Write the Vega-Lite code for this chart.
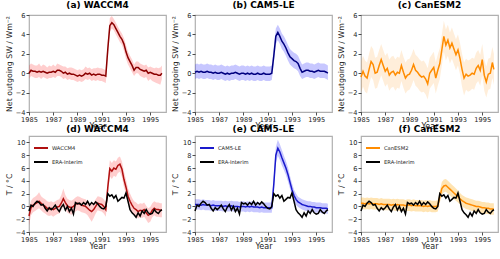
{
"$schema":"https://vega.github.io/schema/vega-lite/v6.json",
"background":"white",
"padding":{"left":4,"top":0,"right":0,"bottom":0},
"datasets":{"d":[
{"t":1985,"a":0,"al":-0.6,"ah":0.8,"b":0.1,"bl":-0.6,"bh":0.9,"c":-0.4,"cl":-2.0,"ch":1.2,"d":-1.5,"dl":-3.0,"dh":-0.3,"e":0.3,"el":-0.5,"eh":1.1,"f":0.5,"fl":-0.4,"fh":1.4,"r":-0.7},
{"t":1985.167,"a":0.3,"al":-0.3,"ah":1.0,"b":0.2,"bl":-0.5,"bh":1.0,"c":0.2,"cl":-1.4,"ch":1.8,"d":-0.2,"dl":-1.4,"dh":0.9,"e":0.3,"el":-0.5,"eh":1.1,"f":0.5,"fl":-0.4,"fh":1.4,"r":0.2},
{"t":1985.333,"a":0.2,"al":-0.4,"ah":0.9,"b":0.1,"bl":-0.6,"bh":0.9,"c":-0.3,"cl":-1.9,"ch":1.3,"d":0.2,"dl":-0.9,"dh":1.3,"e":0.3,"el":-0.5,"eh":1.1,"f":0.4,"fl":-0.5,"fh":1.3,"r":0.0},
{"t":1985.5,"a":0.2,"al":-0.5,"ah":0.8,"b":0.2,"bl":-0.5,"bh":1.0,"c":-0.5,"cl":-2.1,"ch":1.1,"d":0.4,"dl":-0.7,"dh":1.5,"e":0.2,"el":-0.6,"eh":1.0,"f":0.5,"fl":-0.4,"fh":1.4,"r":0.5},
{"t":1985.667,"a":0.1,"al":-0.5,"ah":0.8,"b":0.1,"bl":-0.6,"bh":0.9,"c":0.4,"cl":-1.2,"ch":2.0,"d":0.6,"dl":-0.5,"dh":1.8,"e":0.3,"el":-0.5,"eh":1.1,"f":0.4,"fl":-0.5,"fh":1.3,"r":0.8},
{"t":1985.833,"a":0.2,"al":-0.4,"ah":1.0,"b":0.1,"bl":-0.6,"bh":0.9,"c":1.2,"cl":-0.4,"ch":2.8,"d":0.8,"dl":-0.3,"dh":2.2,"e":0.2,"el":-0.6,"eh":1.0,"f":0.5,"fl":-0.4,"fh":1.4,"r":0.6},
{"t":1986,"a":0.1,"al":-0.6,"ah":0.7,"b":0.2,"bl":-0.5,"bh":1.0,"c":0.9,"cl":-0.7,"ch":2.5,"d":0.5,"dl":-0.6,"dh":1.6,"e":0.2,"el":-0.6,"eh":1.0,"f":0.4,"fl":-0.5,"fh":1.3,"r":0.2},
{"t":1986.167,"a":0.2,"al":-0.4,"ah":0.9,"b":0.1,"bl":-0.6,"bh":0.9,"c":0.0,"cl":-1.6,"ch":1.6,"d":0.2,"dl":-0.9,"dh":1.3,"e":0.2,"el":-0.6,"eh":1.0,"f":0.4,"fl":-0.5,"fh":1.3,"r":0.3},
{"t":1986.333,"a":0.1,"al":-0.5,"ah":0.8,"b":0.1,"bl":-0.6,"bh":0.9,"c":0.1,"cl":-1.5,"ch":1.7,"d":0.0,"dl":-1.1,"dh":1.1,"e":0.1,"el":-0.7,"eh":0.9,"f":0.4,"fl":-0.5,"fh":1.3,"r":-0.3},
{"t":1986.5,"a":0.0,"al":-0.6,"ah":0.6,"b":0.0,"bl":-0.7,"bh":0.8,"c":0.8,"cl":-0.8,"ch":2.4,"d":-0.3,"dl":-1.4,"dh":0.8,"e":0.2,"el":-0.6,"eh":1.0,"f":0.3,"fl":-0.6,"fh":1.2,"r":-0.7},
{"t":1986.667,"a":0.1,"al":-0.5,"ah":0.8,"b":0.1,"bl":-0.6,"bh":0.9,"c":1.4,"cl":-0.2,"ch":3.0,"d":-0.4,"dl":-1.5,"dh":0.7,"e":0.1,"el":-0.7,"eh":0.9,"f":0.4,"fl":-0.5,"fh":1.3,"r":-0.2},
{"t":1986.833,"a":0.1,"al":-0.5,"ah":0.7,"b":0.0,"bl":-0.7,"bh":0.8,"c":0.8,"cl":-0.8,"ch":2.4,"d":-0.3,"dl":-1.4,"dh":0.8,"e":0.1,"el":-0.7,"eh":0.9,"f":0.3,"fl":-0.6,"fh":1.2,"r":-0.5},
{"t":1987,"a":0.2,"al":-0.4,"ah":0.9,"b":0.0,"bl":-0.7,"bh":0.8,"c":0.2,"cl":-1.4,"ch":1.8,"d":-0.5,"dl":-1.6,"dh":0.6,"e":0.1,"el":-0.7,"eh":0.9,"f":0.3,"fl":-0.6,"fh":1.2,"r":-0.2},
{"t":1987.167,"a":0.1,"al":-0.5,"ah":0.7,"b":0.1,"bl":-0.6,"bh":0.9,"c":0.5,"cl":-1.1,"ch":2.1,"d":-0.3,"dl":-1.4,"dh":0.8,"e":0.1,"el":-0.7,"eh":0.9,"f":0.3,"fl":-0.6,"fh":1.2,"r":0.2},
{"t":1987.333,"a":0.3,"al":-0.3,"ah":1.0,"b":0.0,"bl":-0.7,"bh":0.8,"c":-0.2,"cl":-1.8,"ch":1.4,"d":-0.1,"dl":-1.2,"dh":1.0,"e":0.0,"el":-0.8,"eh":0.8,"f":0.3,"fl":-0.6,"fh":1.2,"r":-0.4},
{"t":1987.5,"a":0.3,"al":-0.3,"ah":0.9,"b":-0.1,"bl":-0.8,"bh":0.7,"c":0.1,"cl":-1.5,"ch":1.7,"d":0.0,"dl":-1.1,"dh":1.1,"e":0.1,"el":-0.7,"eh":0.9,"f":0.2,"fl":-0.7,"fh":1.1,"r":-0.8},
{"t":1987.667,"a":0.2,"al":-0.4,"ah":0.8,"b":0.0,"bl":-0.7,"bh":0.8,"c":0.2,"cl":-1.4,"ch":1.8,"d":0.5,"dl":-0.6,"dh":1.8,"e":0.0,"el":-0.8,"eh":0.8,"f":0.3,"fl":-0.6,"fh":1.2,"r":-0.1},
{"t":1987.833,"a":0.0,"al":-0.6,"ah":0.7,"b":-0.1,"bl":-0.8,"bh":0.7,"c":-0.2,"cl":-1.8,"ch":1.4,"d":1.2,"dl":0.0,"dh":2.8,"e":0.0,"el":-0.8,"eh":0.8,"f":0.2,"fl":-0.7,"fh":1.1,"r":0.3},
{"t":1988,"a":0.1,"al":-0.5,"ah":0.7,"b":0.0,"bl":-0.7,"bh":0.8,"c":0.1,"cl":-1.5,"ch":1.7,"d":0.6,"dl":-0.5,"dh":1.8,"e":0.1,"el":-0.7,"eh":0.9,"f":0.3,"fl":-0.6,"fh":1.2,"r":-0.6},
{"t":1988.167,"a":-0.1,"al":-0.7,"ah":0.5,"b":0.0,"bl":-0.7,"bh":0.8,"c":0.0,"cl":-1.6,"ch":1.6,"d":0.1,"dl":-1.0,"dh":1.2,"e":0.0,"el":-0.8,"eh":0.8,"f":0.2,"fl":-0.7,"fh":1.1,"r":0.0},
{"t":1988.333,"a":0.0,"al":-0.6,"ah":0.6,"b":0.1,"bl":-0.6,"bh":0.9,"c":0.8,"cl":-0.8,"ch":2.4,"d":-0.1,"dl":-1.2,"dh":1.0,"e":0.0,"el":-0.8,"eh":0.8,"f":0.2,"fl":-0.7,"fh":1.1,"r":-0.8},
{"t":1988.5,"a":-0.1,"al":-0.7,"ah":0.6,"b":0.0,"bl":-0.7,"bh":0.8,"c":0.1,"cl":-1.5,"ch":1.7,"d":-0.2,"dl":-1.3,"dh":0.9,"e":0.0,"el":-0.8,"eh":0.8,"f":0.2,"fl":-0.7,"fh":1.1,"r":-0.3},
{"t":1988.667,"a":-0.1,"al":-0.7,"ah":0.5,"b":-0.1,"bl":-0.8,"bh":0.7,"c":-0.5,"cl":-2.1,"ch":1.1,"d":0.0,"dl":-1.1,"dh":1.1,"e":-0.1,"el":-0.9,"eh":0.7,"f":0.1,"fl":-0.8,"fh":1.0,"r":-1.2},
{"t":1988.833,"a":-0.2,"al":-0.8,"ah":0.4,"b":0.0,"bl":-0.7,"bh":0.8,"c":-0.2,"cl":-1.8,"ch":1.4,"d":0.3,"dl":-0.8,"dh":1.4,"e":0.0,"el":-0.8,"eh":0.8,"f":0.2,"fl":-0.7,"fh":1.1,"r":0.6},
{"t":1989,"a":-0.3,"al":-0.9,"ah":0.3,"b":0.0,"bl":-0.7,"bh":0.8,"c":-0.1,"cl":-1.7,"ch":1.5,"d":0.5,"dl":-0.6,"dh":1.6,"e":0.0,"el":-0.8,"eh":0.8,"f":0.2,"fl":-0.7,"fh":1.1,"r":0.4},
{"t":1989.167,"a":-0.2,"al":-0.8,"ah":0.4,"b":-0.1,"bl":-0.8,"bh":0.7,"c":0.3,"cl":-1.3,"ch":1.9,"d":0.4,"dl":-0.7,"dh":1.5,"e":-0.1,"el":-0.9,"eh":0.7,"f":0.1,"fl":-0.8,"fh":1.0,"r":0.5},
{"t":1989.333,"a":-0.3,"al":-0.9,"ah":0.3,"b":0.0,"bl":-0.7,"bh":0.8,"c":0.9,"cl":-0.7,"ch":2.5,"d":0.2,"dl":-0.9,"dh":1.3,"e":0.0,"el":-0.8,"eh":0.8,"f":0.2,"fl":-0.7,"fh":1.1,"r":0.2},
{"t":1989.5,"a":-0.2,"al":-0.8,"ah":0.4,"b":-0.1,"bl":-0.8,"bh":0.7,"c":0.3,"cl":-1.3,"ch":1.9,"d":0.1,"dl":-1.0,"dh":1.2,"e":-0.1,"el":-0.9,"eh":0.7,"f":0.1,"fl":-0.8,"fh":1.0,"r":0.6},
{"t":1989.667,"a":0.0,"al":-0.6,"ah":0.7,"b":0.0,"bl":-0.7,"bh":0.8,"c":0.1,"cl":-1.5,"ch":1.7,"d":0.0,"dl":-1.1,"dh":1.1,"e":0.0,"el":-0.8,"eh":0.8,"f":0.1,"fl":-0.8,"fh":1.0,"r":0.3},
{"t":1989.833,"a":-0.1,"al":-0.7,"ah":0.5,"b":-0.1,"bl":-0.8,"bh":0.7,"c":-0.2,"cl":-1.8,"ch":1.4,"d":-0.3,"dl":-1.4,"dh":0.8,"e":-0.1,"el":-0.9,"eh":0.7,"f":0.1,"fl":-0.8,"fh":1.0,"r":0.8},
{"t":1990,"a":0.0,"al":-0.6,"ah":0.6,"b":-0.1,"bl":-0.8,"bh":0.7,"c":-0.4,"cl":-2.0,"ch":1.2,"d":-0.6,"dl":-1.9,"dh":0.5,"e":-0.1,"el":-0.9,"eh":0.7,"f":0.1,"fl":-0.8,"fh":1.0,"r":0.2},
{"t":1990.167,"a":-0.2,"al":-0.8,"ah":0.4,"b":0.0,"bl":-0.7,"bh":0.8,"c":-0.3,"cl":-1.9,"ch":1.3,"d":-0.8,"dl":-2.4,"dh":0.3,"e":-0.1,"el":-0.9,"eh":0.7,"f":0.0,"fl":-0.9,"fh":0.9,"r":0.6},
{"t":1990.333,"a":-0.1,"al":-0.7,"ah":0.5,"b":-0.1,"bl":-0.8,"bh":0.7,"c":-0.6,"cl":-2.2,"ch":1.0,"d":-0.5,"dl":-1.8,"dh":0.6,"e":-0.2,"el":-1.0,"eh":0.6,"f":0.1,"fl":-0.8,"fh":1.0,"r":0.3},
{"t":1990.5,"a":-0.2,"al":-0.8,"ah":0.5,"b":-0.1,"bl":-0.8,"bh":0.7,"c":-1.1,"cl":-2.7,"ch":0.5,"d":0.0,"dl":-1.1,"dh":1.1,"e":-0.1,"el":-0.9,"eh":0.7,"f":0.0,"fl":-0.9,"fh":0.9,"r":0.7},
{"t":1990.667,"a":-0.1,"al":-0.7,"ah":0.6,"b":0.0,"bl":-0.7,"bh":0.8,"c":0.0,"cl":-1.6,"ch":1.6,"d":0.5,"dl":-0.6,"dh":1.6,"e":-0.2,"el":-1.0,"eh":0.6,"f":0.1,"fl":-0.8,"fh":1.0,"r":0.4},
{"t":1990.833,"a":-0.1,"al":-0.8,"ah":0.5,"b":-0.1,"bl":-0.8,"bh":0.7,"c":0.3,"cl":-1.3,"ch":1.9,"d":0.4,"dl":-0.7,"dh":1.5,"e":-0.2,"el":-1.0,"eh":0.6,"f":0.0,"fl":-0.9,"fh":0.9,"r":0.0},
{"t":1991,"a":-0.2,"al":-0.8,"ah":0.5,"b":-0.1,"bl":-0.8,"bh":0.7,"c":0.6,"cl":-1.0,"ch":2.2,"d":0.3,"dl":-0.8,"dh":1.4,"e":-0.2,"el":-1.0,"eh":0.6,"f":0.0,"fl":-0.9,"fh":0.9,"r":-0.3},
{"t":1991.167,"a":-0.2,"al":-0.9,"ah":0.4,"b":-0.1,"bl":-0.8,"bh":0.7,"c":-0.5,"cl":-2.1,"ch":1.1,"d":0.0,"dl":-1.1,"dh":1.1,"e":-0.2,"el":-1.0,"eh":0.6,"f":0.0,"fl":-0.9,"fh":0.9,"r":-0.4},
{"t":1991.333,"a":-0.3,"al":-1.0,"ah":0.3,"b":0.0,"bl":-0.7,"bh":0.8,"c":0.3,"cl":-1.3,"ch":1.9,"d":-0.5,"dl":-1.6,"dh":0.6,"e":-0.2,"el":-1.0,"eh":0.6,"f":0.1,"fl":-0.8,"fh":1.0,"r":0.0},
{"t":1991.5,"a":2.5,"al":1.6,"ah":3.4,"b":1.8,"bl":1.0,"bh":2.7,"c":1.0,"cl":-0.6,"ch":2.6,"d":3.0,"dl":1.8,"dh":4.3,"e":3.5,"el":2.3,"eh":4.7,"f":1.5,"fl":0.6,"fh":2.4,"r":2.0},
{"t":1991.667,"a":4.9,"al":4.3,"ah":5.7,"b":3.8,"bl":3.0,"bh":4.6,"c":2.4,"cl":0.8,"ch":4.0,"d":5.9,"dl":4.7,"dh":7.2,"e":8.0,"el":6.8,"eh":9.3,"f":2.8,"fl":1.8,"fh":3.8,"r":1.6},
{"t":1991.833,"a":5.2,"al":4.6,"ah":5.9,"b":4.2,"bl":3.4,"bh":5.0,"c":3.8,"cl":2.2,"ch":5.4,"d":5.5,"dl":4.3,"dh":6.8,"e":9.1,"el":7.9,"eh":10.4,"f":3.2,"fl":2.2,"fh":4.2,"r":1.8},
{"t":1992,"a":5.0,"al":4.4,"ah":5.6,"b":3.8,"bl":3.0,"bh":4.6,"c":2.9,"cl":1.3,"ch":4.5,"d":6.0,"dl":4.8,"dh":7.2,"e":8.5,"el":7.3,"eh":9.7,"f":3.3,"fl":2.3,"fh":4.3,"r":1.3},
{"t":1992.167,"a":4.6,"al":4.0,"ah":5.2,"b":3.3,"bl":2.5,"bh":4.1,"c":3.4,"cl":1.8,"ch":5.0,"d":5.8,"dl":4.6,"dh":7.0,"e":7.6,"el":6.4,"eh":8.8,"f":3.0,"fl":2.0,"fh":4.0,"r":1.7},
{"t":1992.333,"a":4.2,"al":3.6,"ah":4.8,"b":3.0,"bl":2.2,"bh":3.8,"c":2.6,"cl":1.0,"ch":4.2,"d":6.4,"dl":5.2,"dh":7.6,"e":6.8,"el":5.7,"eh":7.9,"f":2.7,"fl":1.7,"fh":3.7,"r":0.8},
{"t":1992.5,"a":3.8,"al":3.2,"ah":4.4,"b":2.6,"bl":1.8,"bh":3.4,"c":3.1,"cl":1.5,"ch":4.7,"d":6.6,"dl":5.4,"dh":7.8,"e":6.0,"el":4.9,"eh":7.1,"f":2.4,"fl":1.4,"fh":3.4,"r":1.1},
{"t":1992.667,"a":3.5,"al":2.9,"ah":4.1,"b":2.1,"bl":1.3,"bh":2.9,"c":2.5,"cl":0.9,"ch":4.1,"d":5.8,"dl":4.6,"dh":7.0,"e":5.0,"el":3.9,"eh":6.1,"f":2.1,"fl":1.1,"fh":3.1,"r":1.4},
{"t":1992.833,"a":3.0,"al":2.3,"ah":3.6,"b":1.7,"bl":0.9,"bh":2.5,"c":1.9,"cl":0.3,"ch":3.5,"d":4.2,"dl":3.0,"dh":5.4,"e":3.8,"el":2.8,"eh":4.8,"f":1.8,"fl":0.9,"fh":2.8,"r":1.3},
{"t":1993,"a":2.2,"al":1.5,"ah":2.9,"b":1.5,"bl":0.7,"bh":2.3,"c":2.4,"cl":0.8,"ch":4.0,"d":3.0,"dl":1.9,"dh":4.2,"e":2.6,"el":1.7,"eh":3.6,"f":1.5,"fl":0.6,"fh":2.5,"r":2.1},
{"t":1993.167,"a":1.6,"al":0.9,"ah":2.2,"b":1.3,"bl":0.5,"bh":2.1,"c":1.5,"cl":-0.1,"ch":3.1,"d":1.6,"dl":0.5,"dh":2.8,"e":1.7,"el":0.8,"eh":2.6,"f":1.2,"fl":0.3,"fh":2.1,"r":0.8},
{"t":1993.333,"a":1.2,"al":0.5,"ah":1.8,"b":1.2,"bl":0.4,"bh":2.0,"c":0.4,"cl":-1.4,"ch":2.0,"d":0.8,"dl":-0.3,"dh":2.0,"e":1.1,"el":0.2,"eh":2.0,"f":0.9,"fl":0.0,"fh":1.8,"r":-0.5},
{"t":1993.5,"a":0.8,"al":0.1,"ah":1.4,"b":1.0,"bl":0.2,"bh":1.8,"c":-0.5,"cl":-2.3,"ch":1.1,"d":0.2,"dl":-0.9,"dh":1.3,"e":0.7,"el":-0.1,"eh":1.5,"f":0.7,"fl":-0.2,"fh":1.6,"r":-1.0},
{"t":1993.667,"a":0.3,"al":-0.3,"ah":0.9,"b":0.5,"bl":-0.3,"bh":1.3,"c":-0.1,"cl":-1.7,"ch":1.5,"d":-0.3,"dl":-1.4,"dh":0.8,"e":0.5,"el":-0.3,"eh":1.3,"f":0.5,"fl":-0.4,"fh":1.4,"r":-1.3},
{"t":1993.833,"a":0.6,"al":0.0,"ah":1.2,"b":0.1,"bl":-0.6,"bh":0.9,"c":-0.3,"cl":-1.9,"ch":1.3,"d":-0.5,"dl":-1.6,"dh":0.6,"e":0.3,"el":-0.5,"eh":1.1,"f":0.4,"fl":-0.5,"fh":1.3,"r":-1.7},
{"t":1994,"a":0.6,"al":0.0,"ah":1.2,"b":0.2,"bl":-0.5,"bh":1.0,"c":-0.2,"cl":-1.8,"ch":1.4,"d":-0.8,"dl":-1.9,"dh":0.3,"e":0.2,"el":-0.6,"eh":1.0,"f":0.3,"fl":-0.6,"fh":1.2,"r":-1.0},
{"t":1994.167,"a":0.4,"al":-0.3,"ah":1.0,"b":0.3,"bl":-0.4,"bh":1.1,"c":0.0,"cl":-1.6,"ch":1.6,"d":-0.6,"dl":-1.7,"dh":0.5,"e":0.1,"el":-0.7,"eh":0.9,"f":0.2,"fl":-0.7,"fh":1.1,"r":-1.5},
{"t":1994.333,"a":0.3,"al":-0.4,"ah":0.9,"b":0.3,"bl":-0.4,"bh":1.1,"c":-0.1,"cl":-1.7,"ch":1.5,"d":-0.7,"dl":-1.8,"dh":0.4,"e":0.0,"el":-0.8,"eh":0.8,"f":0.1,"fl":-0.8,"fh":1.0,"r":-0.7},
{"t":1994.5,"a":0.2,"al":-0.5,"ah":0.8,"b":0.2,"bl":-0.5,"bh":1.0,"c":0.5,"cl":-1.1,"ch":2.1,"d":-0.5,"dl":-1.6,"dh":0.6,"e":0.0,"el":-0.8,"eh":0.8,"f":0.0,"fl":-0.9,"fh":0.9,"r":-1.1},
{"t":1994.667,"a":0.3,"al":-0.4,"ah":0.9,"b":0.2,"bl":-0.5,"bh":1.0,"c":0.8,"cl":-0.8,"ch":2.4,"d":-1.0,"dl":-2.1,"dh":0.1,"e":-0.1,"el":-0.9,"eh":0.7,"f":0.0,"fl":-0.9,"fh":0.9,"r":-0.5},
{"t":1994.833,"a":0.0,"al":-0.8,"ah":0.6,"b":0.1,"bl":-0.6,"bh":0.9,"c":0.3,"cl":-1.3,"ch":1.9,"d":-1.4,"dl":-2.6,"dh":-0.3,"e":-0.1,"el":-0.9,"eh":0.7,"f":-0.1,"fl":-1.0,"fh":0.8,"r":-1.0},
{"t":1995,"a":0.1,"al":-0.6,"ah":0.7,"b":0.2,"bl":-0.5,"bh":1.0,"c":1.4,"cl":-0.2,"ch":3.0,"d":-1.2,"dl":-2.4,"dh":-0.1,"e":-0.2,"el":-1.0,"eh":0.6,"f":-0.2,"fl":-1.1,"fh":0.7,"r":-1.2},
{"t":1995.167,"a":0.0,"al":-0.8,"ah":0.6,"b":0.3,"bl":-0.4,"bh":1.1,"c":-0.2,"cl":-1.8,"ch":1.4,"d":-0.6,"dl":-1.7,"dh":0.5,"e":-0.2,"el":-1.0,"eh":0.6,"f":-0.2,"fl":-1.1,"fh":0.7,"r":-1.1},
{"t":1995.333,"a":-0.1,"al":-0.9,"ah":0.5,"b":0.2,"bl":-0.5,"bh":1.0,"c":-0.9,"cl":-2.5,"ch":0.7,"d":-0.3,"dl":-1.4,"dh":0.8,"e":-0.2,"el":-1.0,"eh":0.6,"f":-0.3,"fl":-1.2,"fh":0.6,"r":-0.5},
{"t":1995.5,"a":-0.1,"al":-1.0,"ah":0.6,"b":0.2,"bl":-0.5,"bh":1.0,"c":-0.1,"cl":-1.7,"ch":1.5,"d":-0.5,"dl":-1.6,"dh":0.6,"e":-0.3,"el":-1.1,"eh":0.5,"f":-0.3,"fl":-1.2,"fh":0.6,"r":-0.9},
{"t":1995.667,"a":-0.2,"al":-1.1,"ah":0.5,"b":0.2,"bl":-0.5,"bh":1.0,"c":0.0,"cl":-1.6,"ch":1.6,"d":-0.5,"dl":-1.6,"dh":0.6,"e":-0.3,"el":-1.1,"eh":0.5,"f":-0.4,"fl":-1.3,"fh":0.5,"r":-1.1},
{"t":1995.833,"a":-0.2,"al":-1.2,"ah":0.6,"b":0.1,"bl":-0.6,"bh":0.9,"c":1.1,"cl":-0.5,"ch":2.7,"d":-0.6,"dl":-1.7,"dh":0.5,"e":-0.3,"el":-1.1,"eh":0.5,"f":-0.4,"fl":-1.3,"fh":0.5,"r":-0.7},
{"t":1995.96,"a":0.0,"al":-0.6,"ah":0.8,"b":0.0,"bl":-0.7,"bh":0.8,"c":0.4,"cl":-1.2,"ch":2.0,"d":-0.6,"dl":-1.7,"dh":0.5,"e":-0.4,"el":-1.2,"eh":0.4,"f":-0.4,"fl":-1.3,"fh":0.5,"r":-0.5}
]},
"data":{"name":"d"},
"config":{
 "font":"DejaVu Sans",
 "view":{"stroke":"#b0b0b0","strokeWidth":1.2},
 "axis":{"domain":false,"grid":false,"tickColor":"#222","tickSize":3,"tickWidth":0.8,"labelFontSize":6.6,"labelColor":"#222","labelPadding":1,"labelOverlap":false,"labelFlush":false,"titleFontSize":8,"titleFontWeight":"normal","titleColor":"#222","titlePadding":0},
 "axisY":{"titleFontSize":7.8,"titlePadding":2},
 "title":{"fontSize":9,"fontWeight":"bold","offset":2,"color":"#000"},
 "legend":{"orient":"top-left","title":null,"symbolType":"stroke","symbolStrokeWidth":2,"symbolSize":196,"labelFontSize":5.2,"labelColor":"#222","offset":4,"rowPadding":2,"padding":0,"labelOffset":3}
},
"bounds":"flush",
"columns":3,
"spacing":{"row":24,"column":29},
"resolve":{"scale":{"color":"independent"},"legend":{"color":"independent"}},
"concat":[
 {"width":137,"height":97,"title":"(a) WACCM4",
  "encoding":{"x":{"field":"t","type":"quantitative","scale":{"domain":[1985,1996.3],"nice":false,"zero":false},"axis":{"values":[1985,1987,1989,1991,1993,1995],"format":"d","title":"Year"}}},
  "layer":[
   {"mark":{"type":"area","color":"#ff2020","opacity":0.22},"encoding":{"y":{"field":"al","type":"quantitative","scale":{"domain":[-4,6],"nice":false},"axis":{"values":[-4,-2,0,2,4,6],"title":"Net outgoing SW / Wm⁻²"}},"y2":{"field":"ah"}}},
   {"mark":{"type":"line","color":"#8b0000","strokeWidth":1.5},"encoding":{"y":{"field":"a","type":"quantitative","axis":{"values":[-4,-2,0,2,4,6],"title":"Net outgoing SW / Wm⁻²"}}}}
  ]},
 {"width":137,"height":97,"title":"(b) CAM5-LE",
  "encoding":{"x":{"field":"t","type":"quantitative","scale":{"domain":[1985,1996.3],"nice":false,"zero":false},"axis":{"values":[1985,1987,1989,1991,1993,1995],"format":"d","title":"Year"}}},
  "layer":[
   {"mark":{"type":"area","color":"#2020ff","opacity":0.25},"encoding":{"y":{"field":"bl","type":"quantitative","scale":{"domain":[-4,6],"nice":false},"axis":{"values":[-4,-2,0,2,4,6],"title":"Net outgoing SW / Wm⁻²"}},"y2":{"field":"bh"}}},
   {"mark":{"type":"line","color":"#000080","strokeWidth":1.5},"encoding":{"y":{"field":"b","type":"quantitative","axis":{"values":[-4,-2,0,2,4,6],"title":"Net outgoing SW / Wm⁻²"}}}}
  ]},
 {"width":137,"height":97,"title":"(c) CanESM2",
  "encoding":{"x":{"field":"t","type":"quantitative","scale":{"domain":[1985,1996.3],"nice":false,"zero":false},"axis":{"values":[1985,1987,1989,1991,1993,1995],"format":"d","title":"Year"}}},
  "layer":[
   {"mark":{"type":"area","color":"#ffa030","opacity":0.18},"encoding":{"y":{"field":"cl","type":"quantitative","scale":{"domain":[-4,6],"nice":false},"axis":{"values":[-4,-2,0,2,4,6],"title":"Net outgoing SW / Wm⁻²"}},"y2":{"field":"ch"}}},
   {"mark":{"type":"line","color":"#ff8c00","strokeWidth":1.5},"encoding":{"y":{"field":"c","type":"quantitative","axis":{"values":[-4,-2,0,2,4,6],"title":"Net outgoing SW / Wm⁻²"}}}}
  ]},
 {"width":137,"height":96,"title":"(d) WACCM4",
  "encoding":{"x":{"field":"t","type":"quantitative","scale":{"domain":[1985,1996.3],"nice":false,"zero":false},"axis":{"values":[1985,1987,1989,1991,1993,1995],"format":"d","title":"Year"}}},
  "layer":[
   {"mark":{"type":"area","color":"#ff2020","opacity":0.22},"encoding":{"y":{"field":"dl","type":"quantitative","scale":{"domain":[-4,11],"nice":false},"axis":{"values":[-4,-2,0,2,4,6,8,10],"title":"T / °C"}},"y2":{"field":"dh"}}},
   {"mark":{"type":"line","strokeWidth":1.5},"encoding":{"y":{"field":"d","type":"quantitative","axis":{"values":[-4,-2,0,2,4,6,8,10],"title":"T / °C"}},"color":{"datum":"WACCM4","type":"nominal","scale":{"domain":["WACCM4","ERA-Interim"],"range":["#b01010","#000000"]},"legend":{"orient":"top-left"}}}},
   {"mark":{"type":"line","strokeWidth":1.5},"encoding":{"y":{"field":"r","type":"quantitative","axis":{"values":[-4,-2,0,2,4,6,8,10],"title":"T / °C"}},"color":{"datum":"ERA-Interim","type":"nominal"}}}
  ]},
 {"width":137,"height":96,"title":"(e) CAM5-LE",
  "encoding":{"x":{"field":"t","type":"quantitative","scale":{"domain":[1985,1996.3],"nice":false,"zero":false},"axis":{"values":[1985,1987,1989,1991,1993,1995],"format":"d","title":"Year"}}},
  "layer":[
   {"mark":{"type":"area","color":"#2020ff","opacity":0.25},"encoding":{"y":{"field":"el","type":"quantitative","scale":{"domain":[-4,11],"nice":false},"axis":{"values":[-4,-2,0,2,4,6,8,10],"title":"T / °C"}},"y2":{"field":"eh"}}},
   {"mark":{"type":"line","strokeWidth":1.5},"encoding":{"y":{"field":"e","type":"quantitative","axis":{"values":[-4,-2,0,2,4,6,8,10],"title":"T / °C"}},"color":{"datum":"CAM5-LE","type":"nominal","scale":{"domain":["CAM5-LE","ERA-Interim"],"range":["#1a1acc","#000000"]},"legend":{"orient":"top-left"}}}},
   {"mark":{"type":"line","strokeWidth":1.5},"encoding":{"y":{"field":"r","type":"quantitative","axis":{"values":[-4,-2,0,2,4,6,8,10],"title":"T / °C"}},"color":{"datum":"ERA-Interim","type":"nominal"}}}
  ]},
 {"width":137,"height":96,"title":"(f) CanESM2",
  "encoding":{"x":{"field":"t","type":"quantitative","scale":{"domain":[1985,1996.3],"nice":false,"zero":false},"axis":{"values":[1985,1987,1989,1991,1993,1995],"format":"d","title":"Year"}}},
  "layer":[
   {"mark":{"type":"area","color":"#ffa500","opacity":0.3},"encoding":{"y":{"field":"fl","type":"quantitative","scale":{"domain":[-4,11],"nice":false},"axis":{"values":[-4,-2,0,2,4,6,8,10],"title":"T / °C"}},"y2":{"field":"fh"}}},
   {"mark":{"type":"line","strokeWidth":1.5},"encoding":{"y":{"field":"f","type":"quantitative","axis":{"values":[-4,-2,0,2,4,6,8,10],"title":"T / °C"}},"color":{"datum":"CanESM2","type":"nominal","scale":{"domain":["CanESM2","ERA-Interim"],"range":["#ff8c00","#000000"]},"legend":{"orient":"top-left"}}}},
   {"mark":{"type":"line","strokeWidth":1.5},"encoding":{"y":{"field":"r","type":"quantitative","axis":{"values":[-4,-2,0,2,4,6,8,10],"title":"T / °C"}},"color":{"datum":"ERA-Interim","type":"nominal"}}}
  ]}
]
}
